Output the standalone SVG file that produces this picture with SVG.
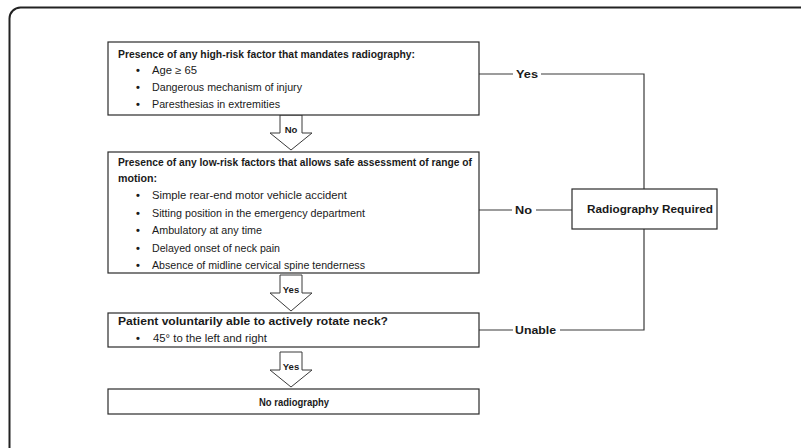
<svg xmlns="http://www.w3.org/2000/svg" width="801" height="448" viewBox="0 0 801 448">
<style>
.box{fill:#fff;stroke:#2b2b2b;stroke-width:1.2}
.arr{fill:#fff;stroke:#3a3a3a;stroke-width:1}
.ln{fill:none;stroke:#3a3a3a;stroke-width:1.2}
text{font-family:"Liberation Sans",Arial,sans-serif;fill:#1a1a1a}
.t{font-size:10.5px;font-weight:bold}
.b{font-size:10.5px}
.bul{font-size:11px;font-weight:bold}
.lab{font-size:11.5px;font-weight:bold}
.al{font-size:9.5px;font-weight:bold;text-anchor:middle}
</style>
<rect x="9.5" y="7.5" width="805" height="460" rx="11" fill="#fff" stroke="#222" stroke-width="2"/>
<g id="connectors">
<path class="ln" d="M479,74 H513 M541,74 H644 V189 M644,229 V330 H560 M513,330 H479 M479,210 H512 M536,210 H572"/>
<text class="lab" x="516" y="78" textLength="22" lengthAdjust="spacingAndGlyphs">Yes</text>
<text class="lab" x="515" y="214" textLength="17" lengthAdjust="spacingAndGlyphs">No</text>
<text class="lab" x="515" y="334" textLength="41" lengthAdjust="spacingAndGlyphs">Unable</text>
<g id="arrow1"><polygon class="arr" points="280,115 302,115 302,133 312,133 291,150 270,133 280,133"/><text class="al" x="291" y="133">No</text></g>
<g id="arrow2"><polygon class="arr" points="280,275 302,275 302,293 312,293 291,311 270,293 280,293"/><text class="al" x="291" y="293">Yes</text></g>
<g id="arrow3"><polygon class="arr" points="280,352 302,352 302,370 312,370 291,387 270,370 280,370"/><text class="al" x="291" y="370">Yes</text></g>
</g>
<g id="high-risk">
<rect class="box" x="108" y="42" width="371" height="73"/>
<text class="t" x="118" y="58" textLength="297" lengthAdjust="spacingAndGlyphs">Presence of any high-risk factor that mandates radiography:</text>
<text class="bul" x="136" y="74">•</text><text class="b" x="152" y="74" textLength="45" lengthAdjust="spacingAndGlyphs">Age ≥ 65</text>
<text class="bul" x="136" y="91">•</text><text class="b" x="152" y="91" textLength="150" lengthAdjust="spacingAndGlyphs">Dangerous mechanism of injury</text>
<text class="bul" x="136" y="108">•</text><text class="b" x="152" y="108" textLength="128" lengthAdjust="spacingAndGlyphs">Paresthesias in extremities</text>
</g>
<g id="low-risk">
<rect class="box" x="108" y="152" width="371" height="121"/>
<text class="t" x="118" y="165.5" textLength="354" lengthAdjust="spacingAndGlyphs">Presence of any low-risk factors that allows safe assessment of range of</text>
<text class="t" x="118" y="182" textLength="39" lengthAdjust="spacingAndGlyphs">motion:</text>
<text class="bul" x="136" y="199">•</text><text class="b" x="152" y="199" textLength="195" lengthAdjust="spacingAndGlyphs">Simple rear-end motor vehicle accident</text>
<text class="bul" x="136" y="216.5">•</text><text class="b" x="152" y="216.5" textLength="213" lengthAdjust="spacingAndGlyphs">Sitting position in the emergency department</text>
<text class="bul" x="136" y="234">•</text><text class="b" x="152" y="234" textLength="110" lengthAdjust="spacingAndGlyphs">Ambulatory at any time</text>
<text class="bul" x="136" y="251.5">•</text><text class="b" x="152" y="251.5" textLength="128" lengthAdjust="spacingAndGlyphs">Delayed onset of neck pain</text>
<text class="bul" x="136" y="269">•</text><text class="b" x="152" y="269" textLength="213" lengthAdjust="spacingAndGlyphs">Absence of midline cervical spine tenderness</text>
</g>
<g id="rotate">
<rect class="box" x="108" y="313" width="371" height="34"/>
<text class="t" x="118" y="325" textLength="270" lengthAdjust="spacingAndGlyphs">Patient voluntarily able to actively rotate neck?</text>
<text class="bul" x="136" y="342">•</text><text class="b" x="153" y="342" textLength="114" lengthAdjust="spacingAndGlyphs">45° to the left and right</text>
</g>
<g id="no-radiography">
<rect class="box" x="108" y="389" width="371" height="25"/>
<text class="t" x="259" y="405.5" textLength="70" lengthAdjust="spacingAndGlyphs">No radiography</text>
</g>
<g id="radiography-required">
<rect class="box" x="572" y="189" width="145" height="40"/>
<text class="lab" x="587" y="213" textLength="126" lengthAdjust="spacingAndGlyphs">Radiography Required</text>
</g>
</svg>
